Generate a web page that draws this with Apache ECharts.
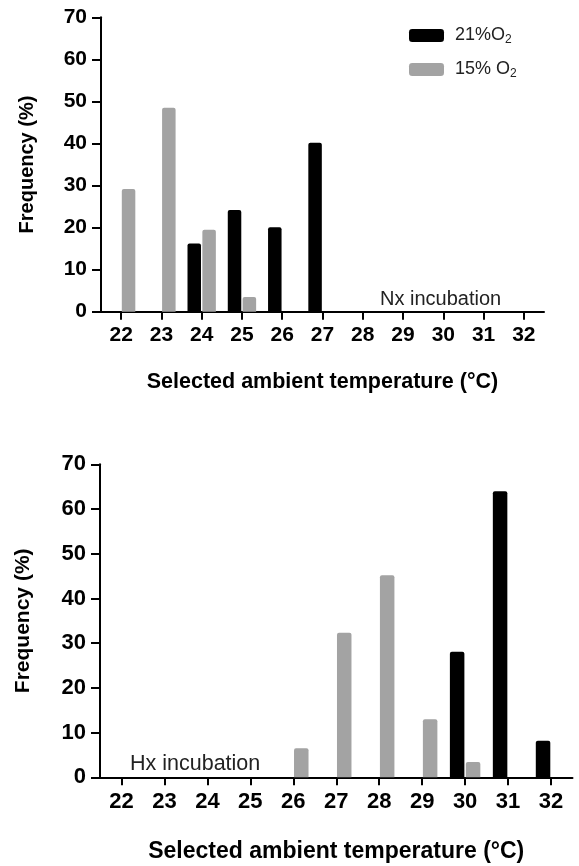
<!DOCTYPE html>
<html>
<head>
<meta charset="utf-8">
<script src="https://cdn.jsdelivr.net/npm/echarts@6/dist/echarts.min.js"></script>
<style>
html,body{margin:0;padding:0;background:#fff;}
#chart{width:579px;height:866px;}
</style>
</head>
<body>
<div id="chart"></div>
<script>
// ---- data ----
var categories = ['22','23','24','25','26','27','28','29','30','31','32'];
var seriesNames = ['21%O2', '15% O2'];
// Nx incubation (top panel)
var nx21 = [null, null, 16.2, 24.2, 20.1, 40.2, null, null, null, null, null];
var nx15 = [29.2, 48.5, 19.5, 3.5, null, null, null, null, null, null, null];
// Hx incubation (bottom panel)
var hx21 = [null, null, null, null, null, null, null, null, 28.1, 64.0, 8.2];
var hx15 = [null, null, null, null, 6.5, 32.3, 45.2, 13.0, 3.4, null, null];
var yTicks = {min: 0, max: 70, interval: 10};
var xTitle = 'Selected ambient temperature (°C)';
var yTitle = 'Frequency (%)';
var panelLabels = ['Nx incubation', 'Hx incubation'];

var FONT = 'Liberation Sans, Arial, Helvetica, sans-serif';
var BLACK = '#000000';
var GRAY = '#a3a3a3';

function xAxis(gridIndex, fs, titleFs, labelMargin, nameGap) {
  return {
    type: 'category', gridIndex: gridIndex, data: categories, boundaryGap: true,
    axisLine: {show: true, lineStyle: {color: '#000', width: 2}},
    axisTick: {show: true, alignWithLabel: true, length: 8, lineStyle: {color: '#000', width: 2}},
    axisLabel: {color: '#000', fontFamily: FONT, fontWeight: 'bold', fontSize: fs, margin: labelMargin},
    splitLine: {show: false},
    name: xTitle, nameLocation: 'middle', nameGap: nameGap,
    nameTextStyle: {color: '#000', fontFamily: FONT, fontWeight: 'bold', fontSize: titleFs}
  };
}
function yAxis(gridIndex, fs, titleFs, nameGap) {
  return {
    type: 'value', gridIndex: gridIndex, min: yTicks.min, max: yTicks.max, interval: yTicks.interval,
    axisLine: {show: true, lineStyle: {color: '#000', width: 2}},
    axisTick: {show: true, length: 9, lineStyle: {color: '#000', width: 2}},
    axisLabel: {color: '#000', fontFamily: FONT, fontWeight: 'bold', fontSize: fs, margin: 14},
    splitLine: {show: false},
    name: yTitle, nameLocation: 'middle', nameGap: nameGap,
    nameTextStyle: {color: '#000', fontFamily: FONT, fontWeight: 'bold', fontSize: titleFs}
  };
}
function bar(name, data, idx, color, width) {
  return {
    name: name, type: 'bar', data: data, xAxisIndex: idx, yAxisIndex: idx,
    barWidth: width, barGap: '10%',
    itemStyle: {color: color, borderRadius: [2, 2, 0, 0]},
    emphasis: {disabled: true}, animation: false
  };
}

var chart = echarts.init(document.getElementById('chart'), null, {renderer: 'canvas'});
chart.setOption({
  backgroundColor: '#fff',
  animation: false,
  grid: [
    {left: 101, right: 35, top: 17.3, bottom: 554.3},
    {left: 100, right: 6.5, top: 464.3, bottom: 88.7}
  ],
  xAxis: [xAxis(0, 21, 21.5, 13, 59), xAxis(1, 22, 23, 14, 63)],
  yAxis: [yAxis(0, 21, 20, 64), yAxis(1, 22, 21, 66)],
  legend: {
    orient: 'vertical', left: 404, top: 20, itemWidth: 35, itemHeight: 13, itemGap: 13,
    icon: 'roundRect',
    data: seriesNames,
    formatter: function (n) { return n.replace(/2$/, '{s|2}'); },
    textStyle: {
      color: '#222', fontFamily: FONT, fontSize: 18, lineHeight: 21, padding: [0, 0, 0, 6],
      rich: {s: {fontSize: 12, lineHeight: 13, verticalAlign: 'bottom', fontFamily: FONT, color: '#222'}}
    }
  },
  graphic: [
    {type: 'text', left: 380, top: 289, style: {text: panelLabels[0], font: '20px ' + FONT, fill: '#222'}},
    {type: 'text', left: 130, top: 753, style: {text: panelLabels[1], font: '21.5px ' + FONT, fill: '#222'}}
  ],
  series: [
    bar(seriesNames[0], nx21, 0, BLACK, 13.5),
    bar(seriesNames[1], nx15, 0, GRAY, 13.5),
    bar(seriesNames[0], hx21, 1, BLACK, 14.5),
    bar(seriesNames[1], hx15, 1, GRAY, 14.5)
  ]
});
</script>
</body>
</html>
